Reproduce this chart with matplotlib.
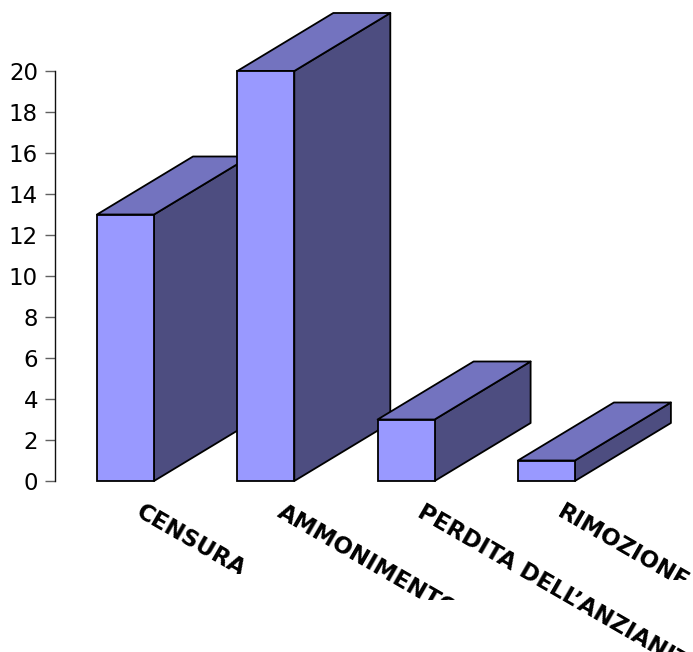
import matplotlib
matplotlib.use('Agg')
import matplotlib.pyplot as plt
from matplotlib.transforms import Bbox

categories = ['CENSURA', 'AMMONIMENTO', 'PERDITA DELL\u2019ANZIANITA\u2019', 'RIMOZIONE']
values = [13, 20, 3, 1]
y_ticks = [0, 2, 4, 6, 8, 10, 12, 14, 16, 18, 20]

W, H = 693, 652
DPI = 100
AXIS_X = 55      # pixel column of the value axis
BASE_Y = 481     # pixel row of value 0
PX_PER_UNIT = 20.5
FIRST_BAR = 125.5
SPACING = 140.3

BAR_W = 57 / SPACING
DEPTH_X = 96 / SPACING
DEPTH_Y = 58 / PX_PER_UNIT

FRONT = '#9999ff'
TOP = '#7373bf'
SIDE = '#4d4d80'

# bottom edge of the area each rotated label is cut off at, in pixels from the top
label_cut = [574, 600, 652, 580]

plt.rcParams['font.family'] = ['DejaVu Sans']

fig = plt.figure(figsize=(W / DPI, H / DPI), dpi=DPI, facecolor='white')
ax = fig.add_axes([AXIS_X / W, 0, 1 - AXIS_X / W, 1])
ax.patch.set_visible(False)
ax.set_xlim((AXIS_X - FIRST_BAR) / SPACING, (W - FIRST_BAR) / SPACING)
ax.set_ylim((BASE_Y - H) / PX_PER_UNIT, BASE_Y / PX_PER_UNIT)

# each box: side and top faces first, then the front, later boxes cover earlier ones
for i, val in enumerate(values):
    x0 = i - BAR_W / 2
    x1 = i + BAR_W / 2
    z = 2 + i
    ax.fill([x1, x1 + DEPTH_X, x1 + DEPTH_X, x1],
            [0, DEPTH_Y, val + DEPTH_Y, val],
            facecolor=SIDE, edgecolor='black', linewidth=1.3, joinstyle='round', zorder=z)
    ax.fill([x0, x1, x1 + DEPTH_X, x0 + DEPTH_X],
            [val, val, val + DEPTH_Y, val + DEPTH_Y],
            facecolor=TOP, edgecolor='black', linewidth=1.3, joinstyle='round', zorder=z)
    ax.bar(i, val, width=BAR_W, color=FRONT, edgecolor='black', linewidth=1.3, zorder=z)

for side in ['top', 'right', 'bottom']:
    ax.spines[side].set_visible(False)
ax.spines['left'].set_bounds(0, 20)
ax.spines['left'].set_linewidth(1.0)
ax.spines['left'].set_color('#101010')
ax.set_xticks([])
ax.set_yticks(y_ticks)
ax.tick_params(axis='y', length=7.2, width=1.0, color='#606060', pad=5, labelsize=16.5)

for i, name in enumerate(categories):
    lab = ax.annotate(name, xy=(i, 0), xytext=(13.5, -14), textcoords='offset points',
                      rotation=-30, rotation_mode='anchor', ha='left', va='top',
                      fontsize=16.5, fontweight='bold', color='black', annotation_clip=False)
    lab.set_clip_on(True)
    lab.set_clip_box(Bbox([[0, H - label_cut[i]], [W, H]]))

fig.savefig('out.png', dpi=DPI)
